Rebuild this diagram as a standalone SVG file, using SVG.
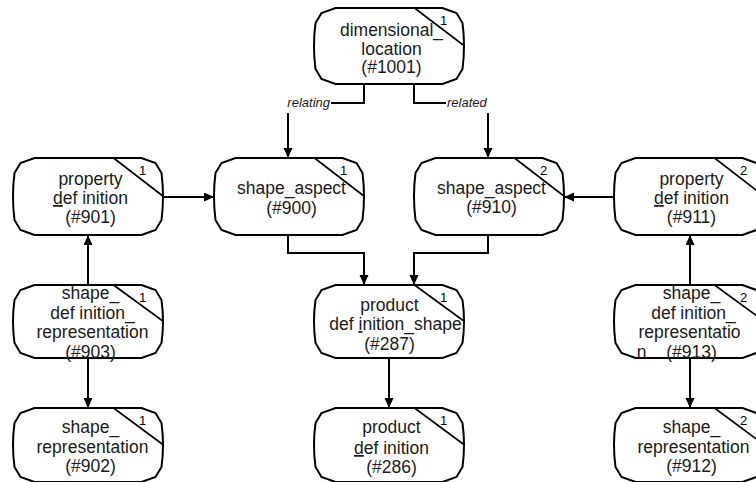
<svg xmlns="http://www.w3.org/2000/svg" xmlns:xlink="http://www.w3.org/1999/xlink" width="756" height="482" viewBox="0 0 756 482">
<style>
.box{fill:#fff;stroke:#000;stroke-width:2}
.diag{fill:none;stroke:#000;stroke-width:1.6}
.t{font-family:"Liberation Sans",Arial,sans-serif;font-size:17.5px;fill:#1a1a1a;text-anchor:middle}
.n{font-family:"Liberation Sans",Arial,sans-serif;font-size:13px;fill:#000;text-anchor:middle}
.lbl{font-family:"Liberation Sans",Arial,sans-serif;font-size:13px;font-style:italic;fill:#1a1a1a}
.c{fill:none;stroke:#000;stroke-width:2}
.u{text-decoration:underline}
</style>
<defs>
<marker id="ah" markerUnits="userSpaceOnUse" markerWidth="11" markerHeight="10" refX="10" refY="4.5" orient="auto">
<path d="M0,0 L10,4.5 L0,9 Z" fill="#000"/>
</marker>
<path id="b76" d="M22,0 H129 L143,5 L149,15 Q152,38 149,61 L143,71 L129,76 H22 L8,71 L2,61 Q-1,38 2,15 L8,5 Z"/>
<path id="b77" d="M22,0 H129 L143,5 L149,15 Q152,38.5 149,62 L143,72 L129,77 H22 L8,72 L2,62 Q-1,38.5 2,15 L8,5 Z"/>
<path id="b73" d="M22,0 H129 L143,5 L149,15 Q152,36.5 149,58 L143,68 L129,73 H22 L8,68 L2,58 Q-1,36.5 2,15 L8,5 Z"/>
<path id="b74" d="M22,0 H129 L143,5 L149,15 Q152,37 149,59 L143,69 L129,74 H22 L8,69 L2,59 Q-1,37 2,15 L8,5 Z"/>
</defs>
<rect width="756" height="482" fill="#fff"/>

<g id="connectors">
<path class="c" d="M364,84 V103 H331"/>
<text class="lbl" x="330" y="107" text-anchor="end">relating</text>
<path class="c" d="M288,113 V158" marker-end="url(#ah)"/>
<path class="c" d="M414,84 V103 H446"/>
<text class="lbl" x="447" y="107">related</text>
<path class="c" d="M488,113 V158" marker-end="url(#ah)"/>
<path class="c" d="M164,197 H214" marker-end="url(#ah)"/>
<path class="c" d="M614,197 H564" marker-end="url(#ah)"/>
<path class="c" d="M288,235 V253 H364 V285" marker-end="url(#ah)"/>
<path class="c" d="M488,235 V253 H414 V285" marker-end="url(#ah)"/>
<path class="c" d="M88,285 V235" marker-end="url(#ah)"/>
<path class="c" d="M88,358 V408" marker-end="url(#ah)"/>
<path class="c" d="M389,358 V408" marker-end="url(#ah)"/>
<path class="c" d="M690,285 V235" marker-end="url(#ah)"/>
<path class="c" d="M690,358 V408" marker-end="url(#ah)"/>
</g>

<g id="n1001" transform="translate(313.5,8)">
<use href="#b76" class="box"/>
<path class="diag" d="M101,0 L151,38"/>
<text class="n" x="130" y="17">1</text>
<text class="t" x="78" y="28">dimensional_</text>
<text class="t" x="78" y="46.5">location</text>
<text class="t" x="78" y="65">(#1001)</text>
</g>

<g id="n901" transform="translate(12.5,158)">
<use href="#b77" class="box"/>
<path class="diag" d="M101,0 L151,38.5"/>
<text class="n" x="130" y="17">1</text>
<text class="t" x="78" y="27">property</text>
<text class="t" x="78" y="46"><tspan class="u">d</tspan>ef inition</text>
<text class="t" x="78" y="65">(#901)</text>
</g>

<g id="n900" transform="translate(213.5,158)">
<use href="#b77" class="box"/>
<path class="diag" d="M101,0 L151,38.5"/>
<text class="n" x="130" y="17">1</text>
<text class="t" x="78" y="36">shape_aspect</text>
<text class="t" x="78" y="55.5">(#900)</text>
</g>

<g id="n910" transform="translate(413.5,158)">
<use href="#b77" class="box"/>
<path class="diag" d="M101,0 L151,38.5"/>
<text class="n" x="130" y="17">2</text>
<text class="t" x="78" y="35.5">shape_aspect</text>
<text class="t" x="78" y="55">(#910)</text>
</g>

<g id="n911" transform="translate(613.5,158)">
<use href="#b77" class="box"/>
<path class="diag" d="M101,0 L151,38.5"/>
<text class="n" x="130" y="17">2</text>
<text class="t" x="78" y="27">property</text>
<text class="t" x="78" y="46"><tspan class="u">d</tspan>ef inition</text>
<text class="t" x="78" y="65">(#911)</text>
</g>

<g id="n903" transform="translate(12.5,285)">
<use href="#b73" class="box"/>
<path class="diag" d="M101,0 L151,36.5"/>
<text class="n" x="130" y="17">1</text>
<text class="t" x="78" y="14">shape_</text>
<text class="t" x="80" y="33.5">def inition_</text>
<text class="t" x="80" y="53">representation</text>
<text class="t" x="78" y="72.5">(#903)</text>
</g>

<g id="n287" transform="translate(313.5,285)">
<use href="#b73" class="box"/>
<path class="diag" d="M101,0 L151,36.5"/>
<text class="n" x="130" y="17">1</text>
<text class="t" x="76" y="26">product</text>
<text class="t" x="82" y="45">def <tspan class="u">i</tspan>nition_shape</text>
<text class="t" x="76" y="65">(#287)</text>
</g>

<g id="n913" transform="translate(613.5,285)">
<use href="#b73" class="box"/>
<path class="diag" d="M101,0 L151,36.5"/>
<text class="n" x="130" y="17">2</text>
<text class="t" x="78" y="14">shape_</text>
<text class="t" x="80" y="33.5">def inition_</text>
<text class="t" x="76" y="53">representatio</text>
<text class="t" x="28" y="72.5">n</text>
<text class="t" x="78" y="72.5">(#913)</text>
</g>

<g id="n902" transform="translate(12.5,408)">
<use href="#b74" class="box"/>
<path class="diag" d="M101,0 L151,37"/>
<text class="n" x="130" y="17">1</text>
<text class="t" x="78" y="25">shape_</text>
<text class="t" x="80" y="45">representation</text>
<text class="t" x="78" y="64">(#902)</text>
</g>

<g id="n286" transform="translate(313.5,408)">
<use href="#b74" class="box"/>
<path class="diag" d="M101,0 L151,37"/>
<text class="n" x="130" y="17">1</text>
<text class="t" x="78" y="25">product</text>
<text class="t" x="78" y="46"><tspan class="u">d</tspan>ef inition</text>
<text class="t" x="78" y="65">(#286)</text>
</g>

<g id="n912" transform="translate(613.5,408)">
<use href="#b74" class="box"/>
<path class="diag" d="M101,0 L151,37"/>
<text class="n" x="130" y="17">2</text>
<text class="t" x="78" y="25">shape_</text>
<text class="t" x="80" y="45">representation</text>
<text class="t" x="78" y="64">(#912)</text>
</g>
</svg>
